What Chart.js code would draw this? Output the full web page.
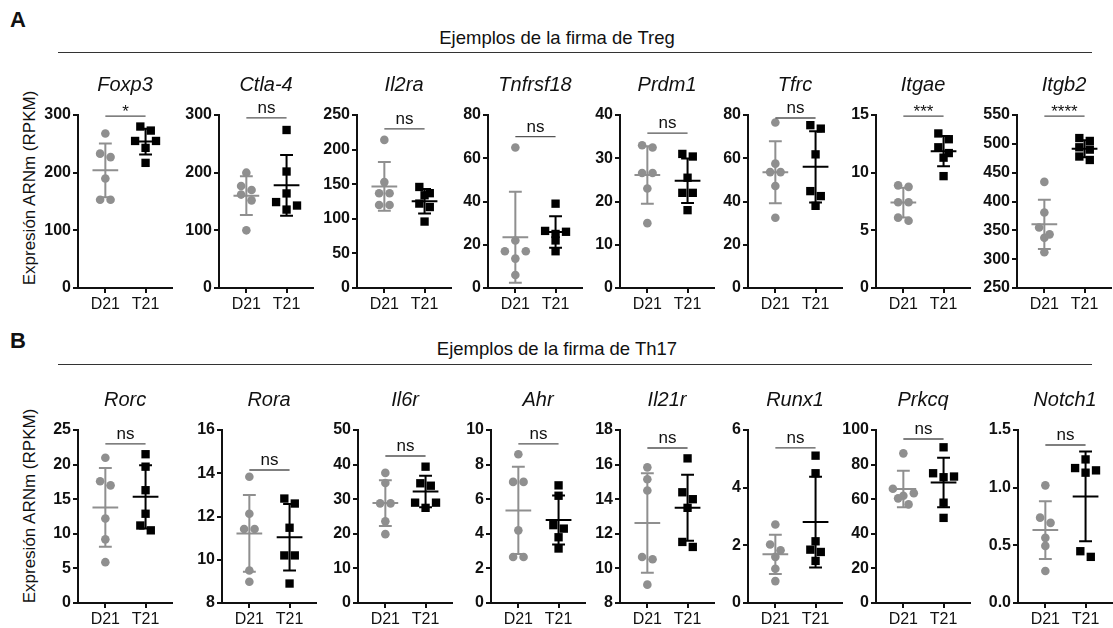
<!DOCTYPE html>
<html>
<head>
<meta charset="utf-8">
<script src="https://cdn.jsdelivr.net/npm/chart.js@4.4.1/dist/chart.umd.min.js"></script>
<style>
	body { margin: 0; background: #fff; width: 1113px; height: 628px; position: relative; overflow: hidden; font-family: "Liberation Sans", Arial, sans-serif; color: #111; }
	canvas { position: absolute; }
	.lbl { position: absolute; white-space: nowrap; line-height: 20px; }
	.head { transform: translateX(-50%); font-size: 18.5px; }
	.letter { font-weight: bold; font-size: 22px; }
	.ylab { font-size: 17px; transform: translate(-50%, -50%) rotate(-90deg); }
	.rule { position: absolute; height: 0; border-top: 1.3px solid #333; left: 58px; width: 1034px; }
</style>
</head>
<body>
<div class="lbl letter" style="left:10px;top:10px">A</div>
<div class="lbl head" style="left:557px;top:28px">Ejemplos de la firma de Treg</div>
<div class="rule" style="top:52px"></div>
<div class="lbl ylab" style="left:30px;top:188px">Expresión ARNm (RPKM)</div>

<div class="lbl letter" style="left:10px;top:331px">B</div>
<div class="lbl head" style="left:557px;top:339px">Ejemplos de la firma de Th17</div>
<div class="rule" style="top:364px"></div>
<div class="lbl ylab" style="left:30px;top:506px">Expresión ARNm (RPKM)</div>

<script>
// groups on the x axis
const groups = ['D21', 'T21'];

// panel A : Treg signature
const genesA = ['Foxp3', 'Ctla-4', 'Il2ra', 'Tnfrsf18', 'Prdm1', 'Tfrc', 'Itgae', 'Itgb2'];
const d21A = [
	[268, 233, 227, 190, 153, 153],
	[200, 177, 170, 162, 152, 100],
	[214, 153, 137, 137, 120, 120],
	[65, 22, 17, 17, 13.6, 6],
	[33, 32.5, 26.6, 26.6, 23, 15],
	[76.5, 57.5, 53.6, 53.6, 47.2, 32.5],
	[8.9, 8.77, 7.43, 7.43, 6.1, 5.83],
	[434, 381, 355, 343, 337, 312],
];
const t21A = [
	[280, 273, 255, 255, 243, 217],
	[274, 202, 164, 149, 143, 136],
	[146, 137, 134, 122, 117, 96],
	[39, 26.4, 26, 25, 22, 17],
	[31, 30.4, 25.5, 22, 22, 18],
	[75.3, 73.7, 61.8, 44.8, 42.5, 38],
	[13.4, 12.9, 12.2, 11.7, 11.3, 9.7],
	[510, 505, 494, 490, 478, 472],
];
// [min, max, step]
const axisA = [[0, 300, 100], [0, 300, 100], [0, 250, 50], [0, 80, 20], [0, 40, 10], [0, 80, 20], [0, 15, 5], [250, 550, 50]];
const sigA = ['*', 'ns', 'ns', 'ns', 'ns', 'ns', '***', '****'];
const sigLevelA = [298, 295, 230, 70, 35.8, 78.6, 14.9, 548];

// panel B : Th17 signature
const genesB = ['Rorc', 'Rora', 'Il6r', 'Ahr', 'Il21r', 'Runx1', 'Prkcq', 'Notch1'];
const d21B = [
	[21, 17.6, 17, 12.2, 9.2, 5.9],
	[13.84, 12.13, 11.42, 11.42, 9.5, 8.98],
	[37.6, 34.7, 28.8, 28.8, 23.6, 19.9],
	[8.6, 7, 7, 4.2, 2.66, 2.66],
	[15.84, 15.15, 14.5, 10.66, 10.53, 9.06],
	[2.72, 2.03, 1.83, 1.6, 1.19, 0.76],
	[86.5, 66, 63.5, 62, 60.5, 57],
	[1.02, 0.74, 0.695, 0.565, 0.495, 0.278],
];
const t21B = [
	[21.5, 19.7, 16.3, 12.9, 11.2, 10.5],
	[12.83, 12.6, 11.48, 10.2, 10.2, 8.9],
	[39.4, 34.6, 33.9, 29, 29, 27.5],
	[6.8, 6.2, 4.5, 4.3, 3.8, 3.15],
	[16.36, 14.4, 14, 13.5, 11.53, 11.24],
	[5.11, 4.5, 2.14, 1.85, 1.77, 1.46],
	[90, 75, 73.1, 72.7, 58, 49.2],
	[1.245, 1.17, 1.15, 1.13, 0.449, 0.40],
];
const axisB = [[0, 25, 5], [8, 16, 2], [0, 50, 10], [0, 10, 2], [8, 18, 2], [0, 6, 2], [0, 100, 20], [0, 1.5, 0.5]];
const sigB = ['ns', 'ns', 'ns', 'ns', 'ns', 'ns', 'ns', 'ns'];
const sigLevelB = [23, 14.15, 42.5, 9.2, 16.96, 5.38, 94.8, 1.37];

// layout
const axisLeft = [[78, 219, 357, 488, 620, 748, 876, 1017], [78, 222, 358, 491, 620, 748, 876, 1018]];
const rowTop = [60, 375];
const plotH = 173;
const font = '"Liberation Sans", Arial, sans-serif';
const grey = '#8f8f8f';
const ink = '#111';

function mean(v) {
	return v.reduce((a, b) => a + b, 0) / v.length;
}
function sd(v) {
	let m = mean(v);
	return Math.sqrt(v.reduce((a, b) => a + (b - m) * (b - m), 0) / (v.length - 1));
}

// spread points that would overlap, rows of close values side by side
function swarm(vals, cx, pxPerUnit) {
	let sorted = vals.slice().sort((a, b) => b - a);
	let rows = [];
	for (let v of sorted) {
		let row = rows[rows.length - 1];
		if (row && (row[0] - v) * pxPerUnit < 8) {
			row.push(v);
		} else {
			rows.push([v]);
		}
	}
	let slots = {1: [0], 2: [-0.5, 0.5], 3: [-1, 1, 0]};
	let pts = [];
	for (let row of rows) {
		let s = slots[row.length] || row.map((_, k) => k - (row.length - 1) / 2);
		row.forEach((v, k) => pts.push({x: cx + s[k] * 0.26, y: v}));
	}
	return pts;
}

function errorBar(cx, vals) {
	let m = mean(vals), s = sd(vals);
	return [
		{x: cx - 0.32, y: m}, {x: cx + 0.32, y: m}, {x: cx, y: null},
		{x: cx, y: m - s}, {x: cx, y: m + s}, {x: cx, y: null},
		{x: cx - 0.16, y: m + s}, {x: cx + 0.16, y: m + s}, {x: cx, y: null},
		{x: cx - 0.16, y: m - s}, {x: cx + 0.16, y: m - s},
	];
}

const panelText = {
	id: 'panelText',
	afterDatasetsDraw(chart, args, opts) {
		let {ctx, chartArea, scales} = chart;
		ctx.save();
		ctx.fillStyle = ink;
		ctx.textAlign = 'center';
		ctx.textBaseline = 'middle';
		ctx.font = 'italic 20px ' + font;
		ctx.fillText(opts.title, (chartArea.left + chartArea.right) / 2, chartArea.top - 30);
		let y = scales.y.getPixelForValue(opts.level);
		ctx.textBaseline = 'alphabetic';
		ctx.font = '17px ' + font;
		let isStar = opts.sig.indexOf('*') !== -1;
		ctx.fillText(opts.sig, scales.x.getPixelForValue(0.5), isStar ? y + 1 : y - 5);
		ctx.restore();
	}
};

function makePanel(row, i, gene, d21, t21, axis, sig, level) {
	let canvas = document.createElement('canvas');
	canvas.width = 150;
	canvas.height = 263;
	canvas.style.left = (axisLeft[row][i] - 50) + 'px';
	canvas.style.top = rowTop[row] + 'px';
	document.body.appendChild(canvas);

	let [min, max, step] = axis;
	let pxPerUnit = plotH / (max - min);

	let lineSet = (data, color, width) => ({
		data: data,
		borderColor: color,
		borderWidth: width,
		pointRadius: 0,
		showLine: true,
		spanGaps: false,
		clip: false,
		order: 0,
	});

	new Chart(canvas, {
		type: 'line',
		data: {
			datasets: [
				lineSet(errorBar(0, d21), grey, 2),
				lineSet(errorBar(1, t21), '#000', 2),
				lineSet([{x: 0, y: level}, {x: 1, y: level}], '#555', 1.4),
				{
					data: swarm(d21, 0, pxPerUnit),
					showLine: false,
					pointStyle: 'circle',
					pointRadius: 4.3,
					backgroundColor: grey,
					borderWidth: 0,
					clip: false,
					order: 1,
				},
				{
					data: swarm(t21, 1, pxPerUnit),
					showLine: false,
					pointStyle: 'rect',
					pointRadius: 5.9,
					backgroundColor: '#000',
					borderWidth: 0,
					clip: false,
					order: 1,
				},
			],
		},
		options: {
			responsive: false,
			animation: false,
			events: [],
			layout: {padding: {top: 55, right: 4, bottom: 0, left: 0}},
			plugins: {
				legend: {display: false},
				tooltip: {enabled: false},
				panelText: {title: gene, sig: sig, level: level},
			},
			scales: {
				x: {
					type: 'linear',
					min: -0.68,
					max: 1.66,
					afterBuildTicks: s => { s.ticks = [{value: 0}, {value: 1}]; },
					afterFit: s => { s.height = 35; },
					ticks: {
						callback: v => groups[v],
						font: {size: 16, family: font},
						color: ink,
						padding: 2,
						maxRotation: 0,
						autoSkip: false,
					},
					grid: {drawOnChartArea: false, tickLength: 5, color: '#111', lineWidth: 2},
					border: {color: '#111', width: 2},
				},
				y: {
					type: 'linear',
					min: min,
					max: max,
					afterFit: s => { s.width = 50; },
					ticks: {
						stepSize: step,
						callback: v => (step < 1 ? v.toFixed(1) : v),
						font: {size: 16, weight: 'bold', family: font},
						color: ink,
						padding: 2,
					},
					grid: {drawOnChartArea: false, tickLength: 5, color: '#111', lineWidth: 2},
					border: {color: '#111', width: 2},
				},
			},
		},
		plugins: [panelText],
	});
}

genesA.forEach((g, i) => makePanel(0, i, g, d21A[i], t21A[i], axisA[i], sigA[i], sigLevelA[i]));
genesB.forEach((g, i) => makePanel(1, i, g, d21B[i], t21B[i], axisB[i], sigB[i], sigLevelB[i]));
</script>
</body>
</html>
